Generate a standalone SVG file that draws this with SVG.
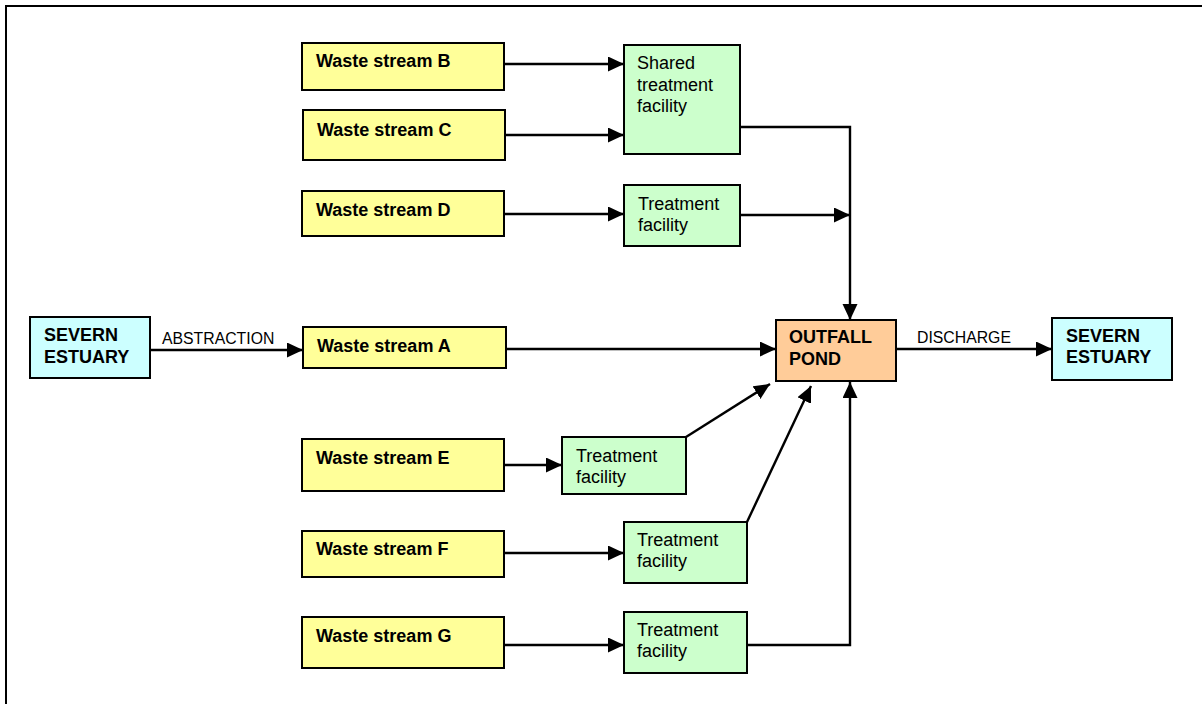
<svg xmlns="http://www.w3.org/2000/svg" width="1202" height="704" viewBox="0 0 1202 704">
<style>
.box{stroke:#000;stroke-width:2}
.ws{fill:#FFFF99}
.tf{fill:#CCFFCC}
.se{fill:#CCFFFF}
.op{fill:#FFCC99}
text{font-family:"Liberation Sans",Arial,sans-serif;font-size:18px;fill:#000}
.b{font-weight:bold}
.lbl{font-size:15.8px}
.con{fill:none;stroke:#000;stroke-width:2.4;marker-end:url(#ah)}
</style>
<defs>
<marker id="ah" markerUnits="userSpaceOnUse" markerWidth="17" markerHeight="16" refX="16" refY="7.5" orient="auto">
<path d="M0,0 L16,7.5 L0,15 z" fill="#000"/>
</marker>
</defs>
<rect width="1202" height="704" fill="#fff"/>
<rect x="6" y="6" width="1210" height="710" fill="none" stroke="#000" stroke-width="2"/>

<g id="connectors">
<path class="con" d="M150,350 H303"/>
<path class="con" d="M504,64 H624"/>
<path class="con" d="M504,135 H624"/>
<path class="con" d="M504,214 H624"/>
<path class="con" d="M506,349 H776"/>
<path class="con" d="M740,127 H850 V320"/>
<path class="con" d="M740,215 H850"/>
<path class="con" d="M896,349 H1052"/>
<path class="con" d="M504,465 H562"/>
<path class="con" d="M686,437 L770,384"/>
<path class="con" d="M504,553 H624"/>
<path class="con" d="M747,522 L811,386"/>
<path class="con" d="M504,645 H624"/>
<path class="con" d="M747,645 H850 V382"/>
<text class="lbl" x="162" y="344">ABSTRACTION</text>
<text class="lbl" x="917" y="343">DISCHARGE</text>
</g>

<g id="severn-left">
<rect class="box se" x="30" y="317" width="120" height="61"/>
<text class="b" x="44" y="341">SEVERN</text>
<text class="b" x="44" y="363">ESTUARY</text>
</g>
<g id="waste-a">
<rect class="box ws" x="303" y="327" width="203" height="41"/>
<text class="b" x="317" y="352">Waste stream A</text>
</g>
<g id="waste-b">
<rect class="box ws" x="302" y="43" width="202" height="47"/>
<text class="b" x="316" y="67">Waste stream B</text>
</g>
<g id="waste-c">
<rect class="box ws" x="303" y="110" width="202" height="50"/>
<text class="b" x="317" y="136">Waste stream C</text>
</g>
<g id="waste-d">
<rect class="box ws" x="302" y="191" width="202" height="45"/>
<text class="b" x="316" y="216">Waste stream D</text>
</g>
<g id="waste-e">
<rect class="box ws" x="302" y="439" width="202" height="52"/>
<text class="b" x="316" y="464">Waste stream E</text>
</g>
<g id="waste-f">
<rect class="box ws" x="302" y="531" width="202" height="46"/>
<text class="b" x="316" y="555">Waste stream F</text>
</g>
<g id="waste-g">
<rect class="box ws" x="302" y="617" width="202" height="51"/>
<text class="b" x="316" y="642">Waste stream G</text>
</g>
<g id="shared-treatment">
<rect class="box tf" x="624" y="45" width="116" height="109"/>
<text x="637" y="69">Shared</text>
<text x="637" y="91">treatment</text>
<text x="637" y="112">facility</text>
</g>
<g id="treatment-d">
<rect class="box tf" x="624" y="185" width="116" height="61"/>
<text x="638" y="210">Treatment</text>
<text x="638" y="231">facility</text>
</g>
<g id="treatment-e">
<rect class="box tf" x="562" y="437" width="124" height="57"/>
<text x="576" y="462">Treatment</text>
<text x="576" y="483">facility</text>
</g>
<g id="treatment-f">
<rect class="box tf" x="624" y="522" width="123" height="61"/>
<text x="637" y="546">Treatment</text>
<text x="637" y="567">facility</text>
</g>
<g id="treatment-g">
<rect class="box tf" x="624" y="612" width="123" height="61"/>
<text x="637" y="636">Treatment</text>
<text x="637" y="657">facility</text>
</g>
<g id="outfall-pond">
<rect class="box op" x="776" y="320" width="120" height="61"/>
<text class="b" x="789" y="343">OUTFALL</text>
<text class="b" x="789" y="365">POND</text>
</g>
<g id="severn-right">
<rect class="box se" x="1052" y="318" width="120" height="62"/>
<text class="b" x="1066" y="342">SEVERN</text>
<text class="b" x="1066" y="363">ESTUARY</text>
</g>
</svg>
